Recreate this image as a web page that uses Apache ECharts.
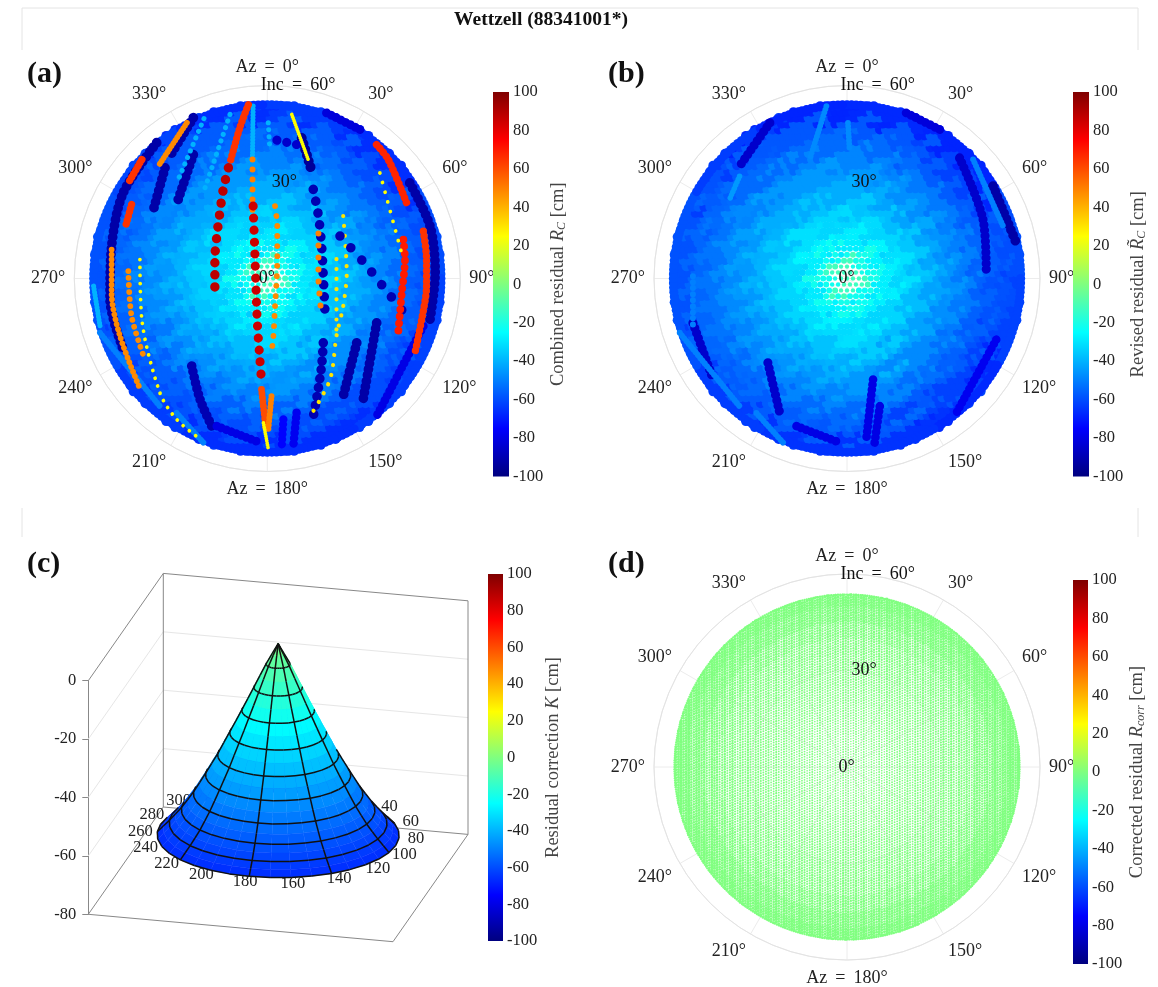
<!DOCTYPE html>
<html><head><meta charset="utf-8">
<script src="https://cdn.jsdelivr.net/npm/echarts@6/dist/echarts.min.js"></script>
<style>html,body{margin:0;background:#fff}#c{width:1158px;height:987px}</style></head>
<body><div id="c"></div>
<script>
// ---------- values ----------
const colorTicks = [-100, 100];
const jetStops = [[0,[0,0,127]],[0.125,[0,0,255]],[0.375,[0,255,255]],[0.625,[255,255,0]],[0.875,[255,0,0]],[1,[127,0,0]]];
const incBinTop = [5,10,15,20,25,30,35,40,45,50,56];
// residual (cm) by inclination bin (rows) and 30-degree azimuth sector (columns)
const binnedA = [
 [-14,-13,-12,-14,-13,-15,-12,-14,-13,-15,-12,-14],
 [-24,-22,-23,-22,-24,-23,-22,-24,-23,-22,-24,-23],
 [-29,-28,-30,-29,-31,-29,-28,-29,-30,-29,-28,-30],
 [-33,-34,-32,-33,-34,-32,-33,-35,-34,-33,-32,-34],
 [-37,-38,-36,-37,-39,-36,-38,-39,-37,-36,-38,-37],
 [-41,-43,-42,-41,-43,-41,-42,-43,-41,-40,-42,-41],
 [-45,-47,-45,-45,-47,-45,-46,-47,-45,-44,-45,-45],
 [-49,-51,-49,-49,-51,-50,-50,-51,-48,-48,-49,-49],
 [-53,-56,-54,-54,-56,-56,-56,-56,-53,-52,-54,-54],
 [-57,-60,-57,-57,-60,-60,-60,-59,-56,-55,-57,-57],
 [-63,-66,-60,-62,-63,-66,-66,-63,-59,-59,-61,-66]];
const binnedB = [
 [-12,-13,-12,-13,-12,-14,-12,-13,-12,-14,-12,-13],
 [-22,-21,-22,-21,-23,-22,-21,-23,-22,-21,-23,-22],
 [-28,-27,-28,-28,-29,-28,-27,-28,-29,-28,-27,-29],
 [-32,-33,-31,-33,-33,-31,-32,-33,-33,-32,-31,-33],
 [-36,-38,-36,-38,-38,-35,-37,-38,-37,-36,-37,-37],
 [-41,-43,-42,-43,-43,-40,-41,-42,-41,-40,-41,-41],
 [-45,-47,-46,-47,-48,-45,-45,-46,-45,-44,-45,-45],
 [-49,-51,-50,-51,-53,-49,-49,-49,-48,-48,-49,-49],
 [-54,-57,-55,-56,-57,-54,-54,-54,-52,-52,-54,-54],
 [-58,-62,-57,-59,-62,-58,-57,-57,-55,-55,-57,-58],
 [-67,-68,-60,-62,-67,-65,-65,-63,-59,-59,-63,-68]];
// satellite passes: east/north sky offsets in degrees, with the pass residual (cm)
const passesA = [
 [[18.4,51.5],[28.8,46.3]],
 [[-52,-16.9],[-33.4,-39.7]],
 [[-28.2,-41.8],[-19.9,-51]],
 [[44.3,29.7],[50.6,16.3],[52.2,1.8],[50.6,-12.7]],
 [[-34.4,42.2],[-44.8,26.6],[-48.4,10],[-48.9,-6.5],[-44.8,-22]],
 [[-23,50],[-30.3,38]],
 [[-31.8,34.4],[-35.4,21.4]],
 [[-23,38.5],[-27.7,24.6]],
 [[-23.5,-27.2],[-20.9,-37.6],[-16.8,-46.9]],
 [[27.8,-20],[23.6,-36.6]],
 [[34,-13.8],[29.8,-37.6]],
 [[5,-43.8],[4.5,-52]],
 [[9.1,-41.7],[8.1,-52]],
 [[-15.7,-45.9],[-2.3,-51]],
 [[48.5,-14.8],[34,-42.8]],
 [[10.7,43.7],[13.8,33.4]],
 [[-4.4,53.6],[-4.6,38]],
 [[-54,-2.4],[-52,-14.8]],
 [[-19.7,49.7],[-28,30]],
 [[-11.6,51],[-19.9,26.6]],
 [[0.3,48.4],[0.8,40]],
 [[3,43],[12,41]],
 [[-5.9,54],[-8.5,47],[-11.6,36]],
 [[-12.1,34.4],[-13.7,27.7],[-14.9,19.4],[-15.7,13.2],[-16.3,5.9],[-16.3,-3.4]],
 [[-4.6,37],[-4.6,26.6],[-4.6,19.4]],
 [[-4.4,22.5],[-3.9,9],[-3.5,-3.4],[-3.1,-13.8],[-2.3,-25.2],[-1.7,-33]],
 [[-1.8,-34.5],[-0.4,-47]],
 [[1.3,-36.6],[0.3,-47]],
 [[-1.2,-44.9],[0.3,-53]],
 [[2.4,22.5],[3.1,16.3],[3.1,5.9],[2.9,-0.3],[2.4,-8.6],[1.9,-17.9],[1.3,-23.1]],
 [[7.6,51],[12.7,37]],
 [[14.3,27.7],[15.9,19.4],[16.9,10],[17.4,0.7],[17.9,-9.6]],
 [[15.9,14],[15.9,0.7],[16.9,-11.7]],
 [[17.4,-20],[16.9,-27],[15.3,-37.6],[14.3,-42.8]],
 [[23.6,19.4],[24.7,1.8],[23.6,-8.6],[21.5,-17.9],[19.5,-31.4],[13.3,-42.8]],
 [[21.5,6],[21.5,-17]],
 [[22.6,13.2],[30,5],[38,-5],[43.3,-11.7]],
 [[42.3,12.1],[42.8,5.9],[41.8,-4.5],[40.7,-16.9]],
 [[48.5,14.7],[49.5,5.9],[49.5,-2.4],[48,-12.7],[45.9,-23.1]],
 [[34,41.6],[37.6,37],[43.3,23.5]],
 [[-25,48.4],[-33.9,34.9]],
 [[-48.4,9],[-48.4,-4.5],[-45.8,-17.9],[-39.5,-34.5]],
 [[-39,37],[-43.2,29.7]],
 [[-42.2,23],[-43.9,16.8]],
 [[-43.2,2.3],[-42.2,-11.7],[-38.5,-24]],
 [[-39.6,5.9],[-39,-12.7],[-33.4,-35.5],[-28.2,-43.8],[-21.4,-49.5]],
 [[35,32.8],[42.3,5.9]]
];
const passValuesA = [-82,-50,-50,-92,-92,-92,-92,-92,-90,-92,-92,-75,-78,-80,-80,-95,-40,-40,-40,-40,-40,-85,65,88,50,85,60,50,25,48,25,-90,50,-90,30,30,-90,70,65,68,48,48,65,65,48,25,25];
const passSpacingA = [0,0,0,0,0,0,0,0,0,0,0,0,0,0,0,0,0,0,7,7,7,10,0,12,10,12,0,0,0,10,0,12,12,9,10,10,16,7,5,5,0,5,4,4,7,8,10];
const passesB = [
 [[35,37.5],[42.3,18.3],[43.3,1.8]],
 [[45.4,28.7],[52.6,11.1]],
 [[-24,48.4],[-33.4,34.9]],
 [[-47.9,-13.8],[-41.6,-31.4]],
 [[-24.6,-26.2],[-20.9,-41.8]],
 [[8.1,-31.4],[6,-50]],
 [[10.2,-39.7],[8.6,-51]],
 [[-6.4,53.6],[-11.6,37]],
 [[0.3,48.4],[0.8,40]],
 [[39.2,37],[48.5,16.3]],
 [[-33.4,31.8],[-36.5,24.6]],
 [[-47.9,0.7],[-47.9,-14.8]],
 [[-52,-16.9],[-33.4,-39.7]],
 [[-28.2,-41.8],[-19.9,-51]],
 [[-15.7,-45.9],[-2.3,-51]],
 [[46.4,-19],[34,-41.8]],
 [[18.4,51.5],[28.8,46.3]]
];
const passValuesB = [-85,-92,-85,-85,-85,-80,-80,-48,-48,-50,-45,-50,-50,-50,-80,-78,-82];
const passSpacingB = [0,0,0,0,0,0,0,0,0,0,0,6,0,0,0,0,0];
const correctedResidual = 0;
const columnPhase = [0,0.31,0.55,0.12,0.43,0.68,0.22,0.6,0.05,0.37,0.74,0.18,0.5];
const columnWeight = [1,0.9,0.97,1.08,0.86,0.94,1.1,0.9,0.84,1.04,0.98,0.88,1.07,0.93,0.85,1.09,0.99];
// panel (c): surface K (cm) along inclination, apex to rim
const coneInc = [0,3,6,9,12,15,18,21,24,27,30,33,36,39,42,45,48,51,54,57,60];
const coneK = [-1,-4.5,-8,-12,-16,-20,-23.9,-27.8,-31.6,-35.4,-39.2,-42.6,-46,-49.3,-52.5,-55.3,-58,-60.3,-62.5,-64.5,-66.5];
const coneAzLabels = [300,280,260,240,220,200,180,160,140,120,100,80,60,40];
const radiusTicks = [0,30,60];
const barNames = [
 'Combined residual {i|R}{s|C} [cm]',
 'Revised residual {i|R\u0303}{s|C} [cm]',
 'Residual correction {i|K} [cm]',
 'Corrected residual {i|R}{s|corr} [cm]'];

// ---------- helpers ----------
const SERIF = '"Liberation Serif","DejaVu Serif",serif';
const TXT = '#222';
function jet(v){
  const t = Math.min(1,Math.max(0,(v+100)/200));
  for(let i=1;i<jetStops.length;i++){
    if(t<=jetStops[i][0]){
      const a=jetStops[i-1],b=jetStops[i],f=(t-a[0])/(b[0]-a[0]);
      const c=a[1].map((x,k)=>Math.round(x+(b[1][k]-x)*f));
      return 'rgb('+c.join(',')+')';
    }
  }
  return 'rgb(127,0,0)';
}
function toPolar(p){
  let az=Math.atan2(p[0],p[1])*180/Math.PI; if(az<0) az+=360;
  return [Math.hypot(p[0],p[1]),az];
}
function bin(r){for(let i=0;i<incBinTop.length;i++) if(r<=incBinTop[i]) return i; return incBinTop.length-1;}
const dotSize=[4.4,6,7,7.5,8,8,8,8.5,9,9.5,9.5];
const ditherR=[-2.6,1.1,-0.7,2.8,-1.9,0.4,2.1,-3.1,1.7];
const ditherA=[-13,8,-4,15,-9,3,11,-16,6,-1];
function lattice(table){
  const out=[],step=1.85;
  let row=0;
  for(let n=-55.5;n<=55.5;n+=step,row++){
    let col=0;
    for(let e=-55.5+(row%2?step/2:0);e<=55.5;e+=step,col++){
      const q=toPolar([e,n]);
      if(q[0]>54.5) continue;
      const b=bin(q[0]);
      const bd=bin(Math.max(0,q[0]+ditherR[(row*5+col*2)%9]));
      const s=Math.floor(((q[1]+ditherA[(row*3+col*7)%10])+360)%360/30);
      out.push([q[0],q[1],table[bd][s],dotSize[b]]);
    }
  }
  // rim of the observed disc
  for(let az=0;az<360;az+=1.5){
    out.push([54,az,table[10][Math.floor(az/30)],9]);
  }
  return out;
}
const thinSize=[1.7,1.7,1.8,1.9,2,2.1,2.2,2.3,2.5,2.8,3.1];
function thinLattice(){
  const out=[],step=0.8;let i=0;
  for(let e=-54;e<=54;e+=step,i++){
    const ph=columnPhase[i%columnPhase.length]*step;
    const w=columnWeight[i%columnWeight.length];
    for(let n=-54+ph;n<=54;n+=step){
      const q=toPolar([e,n]);
      if(q[0]>53.6) continue;
      out.push([q[0],q[1],correctedResidual,thinSize[bin(q[0])]*w]);
    }
  }
  for(let az=0;az<360;az+=0.75){
    out.push([53.6,az,correctedResidual,2.4]);
  }
  return out;
}

// ---------- layout ----------
const polars=[[267.3,278.5],[847,278.5],null,[847,767]];
const bars=[[493,92,16,384.5],[1073,92,16,384.5],[488,574,15,367],[1073,580,15,384]];
const option={animation:false,backgroundColor:'#fff',
  title:[],polar:[],angleAxis:[],radiusAxis:[],grid:[],xAxis:[],yAxis:[],series:[],
  graphic:[{type:'group',silent:true,children:[
    [22,8,1138,8],[22,8,22,50],[1138,8,1138,50],[22,508,22,537],[1138,508,1138,537]
  ].map(l=>({type:'line',shape:{x1:l[0],y1:l[1],x2:l[2],y2:l[3]},style:{stroke:'#e4e4e4',lineWidth:1}}))}]
};
option.title.push({text:'Wettzell (88341001*)',left:536,top:5,textAlign:'center',
  textStyle:{fontFamily:SERIF,fontWeight:'bold',fontSize:19.5,color:'#111'}});
[['(a)',22,54],['(b)',603,54],['(c)',22,544],['(d)',603,544]].forEach(t=>{
  option.title.push({text:t[0],left:t[1],top:t[2],textStyle:{fontFamily:SERIF,fontWeight:'bold',fontSize:30,color:'#111'}});
});

// colour bars
bars.forEach((b,i)=>{
  option.grid.push({left:b[0],top:b[1],width:b[2],height:b[3]});
  option.xAxis.push({gridIndex:i,type:'value',min:0,max:1,show:false});
  option.yAxis.push({gridIndex:i,type:'value',position:'right',min:colorTicks[0],max:colorTicks[1],interval:20,
    axisLine:{show:false},axisTick:{show:false},splitLine:{show:false},
    axisLabel:{margin:4,fontFamily:SERIF,fontSize:16.5,color:TXT},
    name:barNames[i],nameLocation:'middle',nameRotate:90,nameGap:i===2?41:40,
    nameTextStyle:{fontFamily:SERIF,fontSize:18.5,color:'#444',
      rich:{i:{fontFamily:SERIF,fontSize:18.5,fontStyle:'italic',color:'#444'},
            s:{fontFamily:SERIF,fontSize:12,fontStyle:'italic',color:'#444',verticalAlign:'bottom',padding:[6,0,0,0]}}}});
  option.series.push({type:'custom',xAxisIndex:i,yAxisIndex:i,silent:true,data:[[0,0]],
    renderItem:(p,api)=>{
      const a=api.coord([0,colorTicks[1]]),c=api.coord([1,colorTicks[0]]);
      return {type:'rect',shape:{x:a[0],y:a[1],width:c[0]-a[0],height:c[1]-a[1]},
        style:{fill:new echarts.graphic.LinearGradient(0,0,0,1,
          jetStops.map(s=>({offset:1-s[0],color:'rgb('+s[1].join(',')+')'})).reverse())}};
    }});
});

// polar panels
polars.forEach((c,i)=>{
  if(!c) return;
  const pi=option.polar.length;
  option.polar.push({center:c,radius:193});
  option.angleAxis.push({polarIndex:pi,type:'value',min:0,max:360,interval:30,startAngle:90,clockwise:true,
    axisLine:{lineStyle:{color:'#e3e3e3',width:1}},axisTick:{show:false},
    splitLine:{lineStyle:{color:'#ececec',width:1}},
    axisLabel:{margin:9,fontFamily:SERIF,fontSize:18,color:TXT,
      formatter:v=>v===360?'':(v===0?'Az\u2009 = \u20090\u00b0':(v===180?'Az\u2009 = \u2009180\u00b0':v+'\u00b0'))}});
  option.radiusAxis.push({polarIndex:pi,type:'value',min:0,max:60,interval:30,
    axisLine:{show:false},axisTick:{show:false},axisLabel:{show:false},
    splitLine:{lineStyle:{color:'#ececec',width:1}}});
  const base={type:'scatter',coordinateSystem:'polar',polarIndex:pi,silent:true};
  if(i<2){
    option.series.push(Object.assign({},base,{data:lattice(i===0?binnedA:binnedB),z:2,progressive:0,
      symbolSize:v=>v[3],itemStyle:{opacity:1,color:p=>jet(p.value[2])}}));
    const paths=i===0?passesA:passesB,vals=i===0?passValuesA:passValuesB,gaps=i===0?passSpacingA:passSpacingB;
    paths.forEach((path,k)=>{
      const w=1.5+0.09*Math.abs(vals[k]);
      option.series.push({type:'line',coordinateSystem:'polar',polarIndex:pi,silent:true,showSymbol:false,symbol:'none',
        smooth:0.3,z:3,data:path.map(toPolar),
        lineStyle:{color:jet(vals[k]),width:w,cap:'round',type:[0.01,gaps[k]||w*0.6]}});
    });
  } else {
    option.series.push(Object.assign({},base,{data:thinLattice(),z:2,progressive:0,
      symbolSize:v=>v[3],itemStyle:{opacity:1,color:jet(correctedResidual)}}));
  }
  // radial tick labels
  const offs=[-9,4,-7];
  option.series.push(Object.assign({},base,{z:6,symbolSize:1,itemStyle:{opacity:1,color:'rgba(0,0,0,0)'},
    data:radiusTicks.map((r,k)=>({value:[r,0],label:{offset:[offs[k],0]}})),
    label:{show:true,position:'right',distance:0,fontFamily:SERIF,fontSize:18,color:'#111',
      formatter:p=>(p.value[0]===60?'Inc\u2009 = \u200960\u00b0':p.value[0]+'\u00b0')}}));
});

// panel (c): box scene, projected through the z axis scale
const gi=bars.length;
option.grid.push({left:88.3,top:680.7,width:380,height:233.6});
option.xAxis.push({gridIndex:gi,type:'value',min:0,max:380,show:false});
option.yAxis.push({gridIndex:gi,type:'value',min:-80,max:0,interval:20,
  axisLine:{show:true,lineStyle:{color:'#888'}},axisTick:{show:true,length:6,lineStyle:{color:'#888'}},
  splitLine:{show:false},axisLabel:{margin:12,fontFamily:SERIF,fontSize:16.5,color:TXT}});
const proj=(a,b,z)=>[a*304.7+b*75, z+(-27.4*a+107.3*b)/2.92];
const rhoMax=0.386;
const conePt=(inc,az,z)=>{
  const t=(90-az)*Math.PI/180,r=rhoMax*inc/60;
  return proj(0.5+r*Math.cos(t),0.5+r*Math.sin(t),z);
};
const lightEdges=[];
[-20,-40,-60].forEach(z=>{lightEdges.push([0,0,z,0,1,z],[0,1,z,1,1,z]);});
const boxEdges=[[0,1,0,1,1,0],[1,1,0,1,1,-80],[0,1,0,0,1,-80],[0,0,0,0,1,0],[0,0,-80,1,0,-80],[1,0,-80,1,1,-80],[1,1,-80,0,1,-80],[0,1,-80,0,0,-80]];
function edgeSeries(edges,color,z){
  return {type:'custom',xAxisIndex:gi,yAxisIndex:gi,silent:true,z:z,clip:false,data:edges,
    renderItem:(p,api)=>{
      const e=edges[p.dataIndex],A=api.coord(proj(e[0],e[1],e[2])),B=api.coord(proj(e[3],e[4],e[5]));
      return {type:'line',shape:{x1:A[0],y1:A[1],x2:B[0],y2:B[1]},style:{stroke:color,lineWidth:1,fill:null}};
    }};
}
option.series.push(edgeSeries(lightEdges,'#e6e6e6',1));
option.series.push(edgeSeries(boxEdges,'#888',1));
option.series.push({type:'custom',xAxisIndex:gi,yAxisIndex:gi,silent:true,z:2,clip:false,data:coneAzLabels.map(a=>[a,0]),
  renderItem:(p,api)=>{
    const az=coneAzLabels[p.dataIndex];
    const c=api.coord(conePt(60*0.44/rhoMax,az,coneK[coneK.length-1]));
    return {type:'text',x:c[0],y:c[1],style:{text:String(az),fontFamily:SERIF,fontSize:16.5,fill:TXT,align:'center',verticalAlign:'middle'}};
  }});
const facets=[];
for(let az=0;az<360;az+=10) for(let i=0;i<coneInc.length-1;i++) facets.push([az,i]);
const backness=f=>Math.cos((f[0]+5)*Math.PI/180);
facets.sort((x,y)=>(backness(y)-backness(x))||(x[1]-y[1]));
const facetCorners=(api,az,i)=>{
  const C=(n,a)=>api.coord(conePt(coneInc[n],a,coneK[n]));
  return [C(i,az),C(i,az+10),C(i+1,az+10),C(i+1,az)];
};
const area=P=>{let s=0;for(let k=0;k<P.length;k++){const a=P[k],b=P[(k+1)%P.length];s+=a[0]*b[1]-b[0]*a[1];}return s;};
option.series.push({type:'custom',xAxisIndex:gi,yAxisIndex:gi,silent:true,z:3,clip:false,progressive:0,data:facets,
  renderItem:(p,api)=>{
    const f=facets[p.dataIndex],P=facetCorners(api,f[0],f[1]);
    const col=jet((coneK[f[1]]+coneK[f[1]+1])/2);
    return {type:'polygon',shape:{points:P},style:{fill:col,stroke:col,lineWidth:0.4}};
  }});
option.series.push({type:'custom',xAxisIndex:gi,yAxisIndex:gi,silent:true,z:4,clip:false,progressive:0,data:facets,
  renderItem:(p,api)=>{
    const f=facets[p.dataIndex],az=f[0],i=f[1],P=facetCorners(api,az,i);
    const frontSign=Math.sign(area(facetCorners(api,170,i)));
    const kids=[];
    if(Math.sign(area(P))===frontSign){
      if((i+1)%2===0) kids.push({type:'line',shape:{x1:P[3][0],y1:P[3][1],x2:P[2][0],y2:P[2][1]},style:{stroke:'#111',lineWidth:1.5}});
      if((az+20)%40===0) kids.push({type:'line',shape:{x1:P[0][0],y1:P[0][1],x2:P[3][0],y2:P[3][1]},style:{stroke:'#111',lineWidth:1.5}});
    }
    return {type:'group',children:kids};
  }});

const chart=echarts.init(document.getElementById('c'),null,{width:1158,height:987,renderer:'canvas'});
chart.setOption(option);
</script></body></html>
